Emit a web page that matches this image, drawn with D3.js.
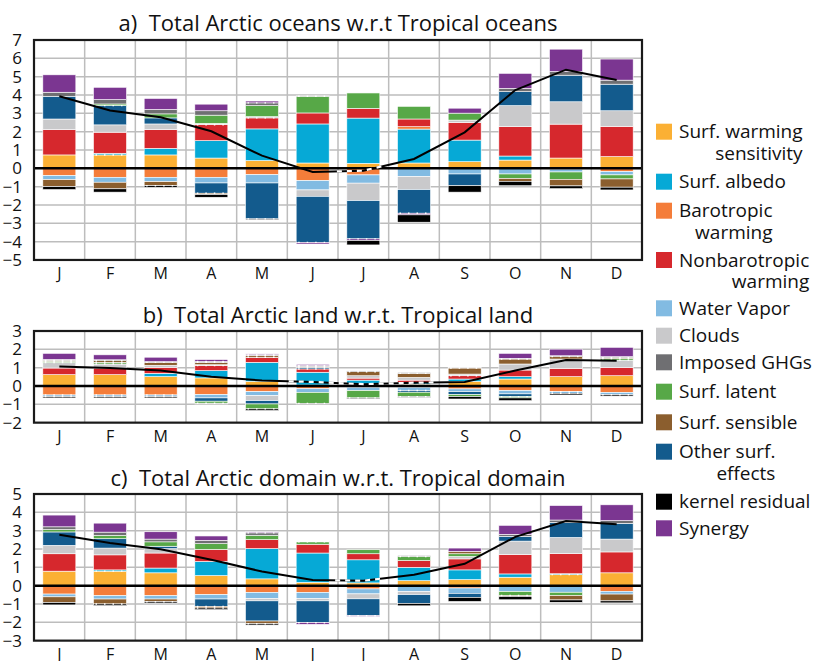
<!DOCTYPE html>
<html>
<head>
<meta charset="utf-8">
<script src="https://cdn.jsdelivr.net/npm/d3@7"></script>
<style>
  body { margin: 0; background: #fff; }
  svg { display: block; }
  text { font-family: "Open Sans", "Noto Sans", sans-serif; fill: #111; }
</style>
</head>
<body>
<svg id="chart" width="815" height="661"></svg>
<script>
// Month labels along each x axis
const months = ["J", "F", "M", "A", "M", "J", "J", "A", "S", "O", "N", "D"];

// Feedback terms (legend order)
const seriesNames = [
  ["Surf. warming", "sensitivity"],
  ["Surf. albedo"],
  ["Barotropic", "warming"],
  ["Nonbarotropic", "warming"],
  ["Water Vapor"],
  ["Clouds"],
  ["Imposed GHGs"],
  ["Surf. latent"],
  ["Surf. sensible"],
  ["Other surf.", "effects"],
  ["kernel residual"],
  ["Synergy"]
];
const seriesColors = [
  "#fbb034", "#06a9d6", "#f47d3a", "#d6282d", "#82bbe2", "#c9c9cb",
  "#6f6f72", "#57a847", "#8b5e2e", "#135b8d", "#000000", "#7b3691"
];
// Order in which terms are stacked away from zero
const stackOrder = [0, 1, 2, 3, 4, 5, 9, 7, 8, 6, 11, 10];

// a) Arctic oceans minus tropical oceans (rows follow seriesNames)
const oceanValues = [
  [0.73, 0.73, 0.73, 0.56, 0.42, 0.29, 0.27, 0.29, 0.36, 0.45, 0.56, 0.64],
  [0, 0.09, 0.36, 0.95, 1.73, 2.13, 2.47, 1.85, 1.18, 0.22, 0, 0],
  [-0.4, -0.49, -0.49, -0.49, -0.35, -0.67, -0.36, 0.13, 0, 0, -0.05, -0.18],
  [1.38, 1.15, 1.02, 0.87, 0.6, 0.6, 0.53, 0.42, 0.96, 1.6, 1.85, 1.65],
  [-0.22, -0.27, -0.24, -0.31, -0.45, -0.51, -0.45, -0.45, -0.31, -0.31, -0.15, -0.18],
  [0.58, 0.4, 0.31, 0.07, 0.07, -0.35, -0.95, -0.71, 0.13, 1.15, 1.22, 0.85],
  [0.22, 0.24, 0.24, 0.24, 0.15, 0.03, 0, 0, 0, 0.18, 0.2, 0.22],
  [0, 0.09, 0.22, 0.45, 0.6, 0.91, 0.84, 0.69, 0.38, -0.24, -0.4, -0.22],
  [-0.38, -0.36, -0.22, -0.07, 0, 0, 0, 0, 0, -0.16, -0.36, -0.45],
  [1.24, 1.05, 0.33, -0.56, -1.96, -2.51, -2.09, -1.29, -0.64, 0.76, 1.45, 1.45],
  [-0.16, -0.18, -0.09, -0.15, -0.05, 0, -0.24, -0.4, -0.35, -0.24, -0.15, -0.15],
  [0.95, 0.67, 0.6, 0.36, 0.1, -0.09, -0.09, -0.09, 0.27, 0.82, 1.22, 1.15]
];
const oceanTotals = [3.93, 3.15, 2.78, 2.02, 0.69, -0.2, -0.13, 0.51, 1.96, 4.27, 5.38, 4.82];

// b) Arctic land minus tropical land
const landValues = [
  [0.62, 0.62, 0.51, 0.44, 0.25, 0.05, 0.1, 0.1, 0.25, 0.38, 0.51, 0.56],
  [0, 0, 0.18, 0.4, 1.04, 0.7, 0.22, 0.09, 0.13, 0.13, 0, 0],
  [-0.49, -0.49, -0.49, -0.47, -0.31, -0.15, -0.07, -0.07, -0.16, -0.25, -0.31, -0.35],
  [0.36, 0.36, 0.33, 0.27, 0.27, 0.18, 0.11, 0.13, 0.18, 0.36, 0.45, 0.45],
  [-0.09, -0.09, -0.09, -0.18, -0.22, -0.2, -0.18, -0.18, -0.15, -0.18, -0.09, -0.13],
  [0.3, 0.22, 0.11, 0.05, -0.27, 0, 0.13, 0.15, 0.09, 0.33, 0.51, 0.4],
  [0.05, 0.05, 0.04, 0.05, 0.05, 0.04, 0.04, 0.04, 0.04, 0.04, 0.05, 0.05],
  [0.07, 0.09, 0, -0.11, -0.27, -0.6, -0.4, -0.24, -0.11, -0.07, 0, 0.09],
  [0.05, 0.09, 0.16, 0.13, 0.09, 0.05, 0.22, 0.22, 0.33, 0.27, 0.13, 0.05],
  [0, 0, 0, -0.18, -0.18, 0.09, 0, -0.09, -0.16, -0.15, 0, 0],
  [-0.07, -0.07, -0.07, -0.04, -0.09, -0.04, -0.04, -0.04, -0.13, -0.15, -0.09, -0.07],
  [0.33, 0.27, 0.24, 0.1, 0.05, 0.07, 0, 0, 0, 0.27, 0.36, 0.51]
];
const landTotals = [1.07, 0.98, 0.84, 0.5, 0.3, 0.22, 0.1, 0.18, 0.22, 0.84, 1.42, 1.38];

// c) Whole Arctic minus whole tropics
const domainValues = [
  [0.79, 0.79, 0.7, 0.55, 0.37, 0.18, 0.15, 0.27, 0.33, 0.46, 0.6, 0.7],
  [0, 0.07, 0.26, 0.77, 1.65, 1.6, 1.26, 0.73, 0.53, 0.18, 0.05, 0],
  [-0.46, -0.55, -0.55, -0.49, -0.37, -0.37, -0.18, 0, -0.13, -0.05, -0.05, -0.31],
  [0.95, 0.82, 0.82, 0.66, 0.49, 0.48, 0.33, 0.37, 0.6, 1.06, 1.1, 1.14],
  [-0.15, -0.18, -0.18, -0.24, -0.33, -0.33, -0.27, -0.33, -0.29, -0.27, -0.31, -0.15],
  [0.46, 0.37, 0.24, 0, -0.13, -0.13, -0.27, -0.16, 0.13, 0.73, 0.88, 0.7],
  [0.15, 0.18, 0.15, 0.18, 0.13, 0.03, 0, 0.05, 0, 0.11, 0.13, 0.15],
  [0.13, 0.18, 0.24, 0.31, 0.24, 0.13, 0.22, 0.22, 0.15, -0.22, -0.18, 0],
  [-0.31, -0.27, -0.15, -0.09, -0.15, 0, 0, 0, 0.13, -0.05, -0.24, -0.37],
  [0.73, 0.51, 0.13, -0.4, -1.1, -1.19, -0.92, -0.48, -0.22, 0.26, 0.82, 0.86],
  [-0.13, -0.09, -0.07, -0.09, -0.07, 0, 0, -0.13, -0.22, -0.18, -0.13, -0.11],
  [0.64, 0.49, 0.4, 0.24, 0.05, -0.09, -0.04, 0, 0.18, 0.49, 0.79, 0.86]
];
const domainTotals = [2.78, 2.33, 1.98, 1.41, 0.77, 0.31, 0.27, 0.59, 1.19, 2.66, 3.53, 3.35];

const panelTitles = [
  "a)  Total Arctic oceans w.r.t Tropical oceans",
  "b)  Total Arctic land w.r.t. Tropical land",
  "c)  Total Arctic domain w.r.t. Tropical domain"
];
const yDomains = [[-5, 7], [-2, 3], [-3, 5]];

// Layout
const plotLeft = 34, plotRight = 642, unitPx = 18.33;
const panels = [
  { title: panelTitles[0], values: oceanValues, totals: oceanTotals, domain: yDomains[0], top: 40, titleY: 31, dash: [5.42, 6.39] },
  { title: panelTitles[1], values: landValues, totals: landTotals, domain: yDomains[1], top: 331, titleY: 323, dash: [4.51, 7.39] },
  { title: panelTitles[2], values: domainValues, totals: domainTotals, domain: yDomains[2], top: 494, titleY: 486, dash: [5.42, 6.35] }
];

const svg = d3.select("#chart");
const x = d3.scaleBand().domain(d3.range(12)).range([plotLeft, plotRight]).padding(0);
const bw = x.bandwidth();
const barW = 33;

panels.forEach((p, pi) => {
  const [lo, hi] = p.domain;
  const bottom = p.top + (hi - lo) * unitPx;
  const y = d3.scaleLinear().domain([lo, hi]).range([bottom, p.top]);
  const g = svg.append("g");

  // grid
  g.append("g").selectAll("line.h").data(d3.range(lo + 1, hi)).join("line")
    .attr("x1", plotLeft).attr("x2", plotRight)
    .attr("y1", d => y(d)).attr("y2", d => y(d))
    .attr("stroke", "#bdbdbd").attr("stroke-width", 1.5);
  g.append("g").selectAll("line.v").data(d3.range(1, 12)).join("line")
    .attr("x1", d => x(d)).attr("x2", d => x(d))
    .attr("y1", p.top).attr("y2", bottom)
    .attr("stroke", "#bdbdbd").attr("stroke-width", 1.5);

  // stacked bars
  const segs = [];
  d3.range(12).forEach(m => {
    let pos = 0, neg = 0;
    stackOrder.forEach(s => {
      const v = p.values[s][m];
      if (!v) return;
      let a, b;
      if (v > 0) { a = pos; b = pos + v; pos = b; }
      else { a = neg + v; b = neg; neg = a; }
      segs.push({ m, s, a, b, v });
    });
  });
  g.append("g").selectAll("rect").data(segs).join("rect")
    .attr("x", d => x(d.m) + (bw - barW) / 2)
    .attr("width", barW)
    .attr("y", d => y(d.b))
    .attr("height", d => y(d.a) - y(d.b))
    .attr("fill", d => seriesColors[d.s])
    .attr("stroke", "#ffffff").attr("stroke-width", 0.6);

  // thin terms carry a dashed white edge
  g.append("g").selectAll("line").data(segs.filter(d => Math.abs(d.v) <= 0.1)).join("line")
    .attr("x1", d => x(d.m) + (bw - barW) / 2 + 2)
    .attr("x2", d => x(d.m) + (bw + barW) / 2)
    .attr("y1", d => y(d.v > 0 ? d.a : d.b))
    .attr("y2", d => y(d.v > 0 ? d.a : d.b))
    .attr("stroke", "#fff").attr("stroke-width", 1.4)
    .attr("stroke-dasharray", "1.5,7");

  // zero line
  g.append("line").attr("x1", plotLeft).attr("x2", plotRight)
    .attr("y1", y(0)).attr("y2", y(0))
    .attr("stroke", "#000").attr("stroke-width", 2.5);

  // total line
  const line = d3.line().x((d, i) => x(i) + bw / 2).y(d => y(d));
  g.append("path").attr("d", line(p.totals))
    .attr("fill", "none").attr("stroke", "#000").attr("stroke-width", 2);
  const clipId = "dash" + pi;
  const cx0 = x(0) + bw / 2 + p.dash[0] * bw, cx1 = x(0) + bw / 2 + p.dash[1] * bw;
  svg.append("clipPath").attr("id", clipId).append("rect")
    .attr("x", cx0).attr("y", p.top).attr("width", cx1 - cx0).attr("height", bottom - p.top);
  g.append("path").attr("d", line(p.totals)).attr("clip-path", `url(#${clipId})`)
    .attr("fill", "none").attr("stroke", "#fff").attr("stroke-width", 2.2)
    .attr("stroke-dasharray", "5,5");

  // frame
  g.append("rect").attr("x", plotLeft).attr("y", p.top)
    .attr("width", plotRight - plotLeft).attr("height", bottom - p.top)
    .attr("fill", "none").attr("stroke", "#1a1a1a").attr("stroke-width", 2.2);

  // y axis
  const ya = g.append("g").attr("transform", `translate(${plotLeft - 9},0)`)
    .call(d3.axisLeft(y).tickValues(d3.range(lo, hi + 1)).tickSize(0).tickFormat(d3.format("d")));
  ya.select(".domain").remove();
  ya.selectAll("text").attr("font-size", 17).attr("fill", "#111")
    .style("font-family", '"Open Sans", sans-serif');

  // x axis
  const xa = g.append("g").attr("transform", `translate(0,${bottom + 5})`)
    .call(d3.axisBottom(x).tickSize(0).tickFormat(i => months[i]));
  xa.select(".domain").remove();
  xa.selectAll("text").attr("font-size", 16).attr("fill", "#111")
    .style("font-family", '"Open Sans", sans-serif');

  // title
  g.append("text").attr("x", (plotLeft + plotRight) / 2).attr("y", p.titleY)
    .attr("text-anchor", "middle").attr("font-size", 22)
    .style("white-space", "pre").text(p.title);
});

// legend
const legendRows = [131.7, 181.7, 210.7, 260, 308.3, 335.7, 362.3, 391.7, 422.3, 451.7, 501.7, 528.3];
const lg = svg.append("g");
seriesNames.forEach((lines, i) => {
  const cy = legendRows[i];
  lg.append("rect").attr("x", 656).attr("y", cy - 8).attr("width", 16).attr("height", 16)
    .attr("fill", seriesColors[i]);
  const t = lg.append("text").attr("x", 679).attr("y", cy + 6.5).attr("font-size", 19).text(lines[0]);
  if (lines[1]) {
    const w = t.node().getComputedTextLength();
    lg.append("text").attr("x", 679 + w).attr("y", cy + 28).attr("text-anchor", "end")
      .attr("font-size", 19).text(lines[1]);
  }
});
</script>
</body>
</html>
